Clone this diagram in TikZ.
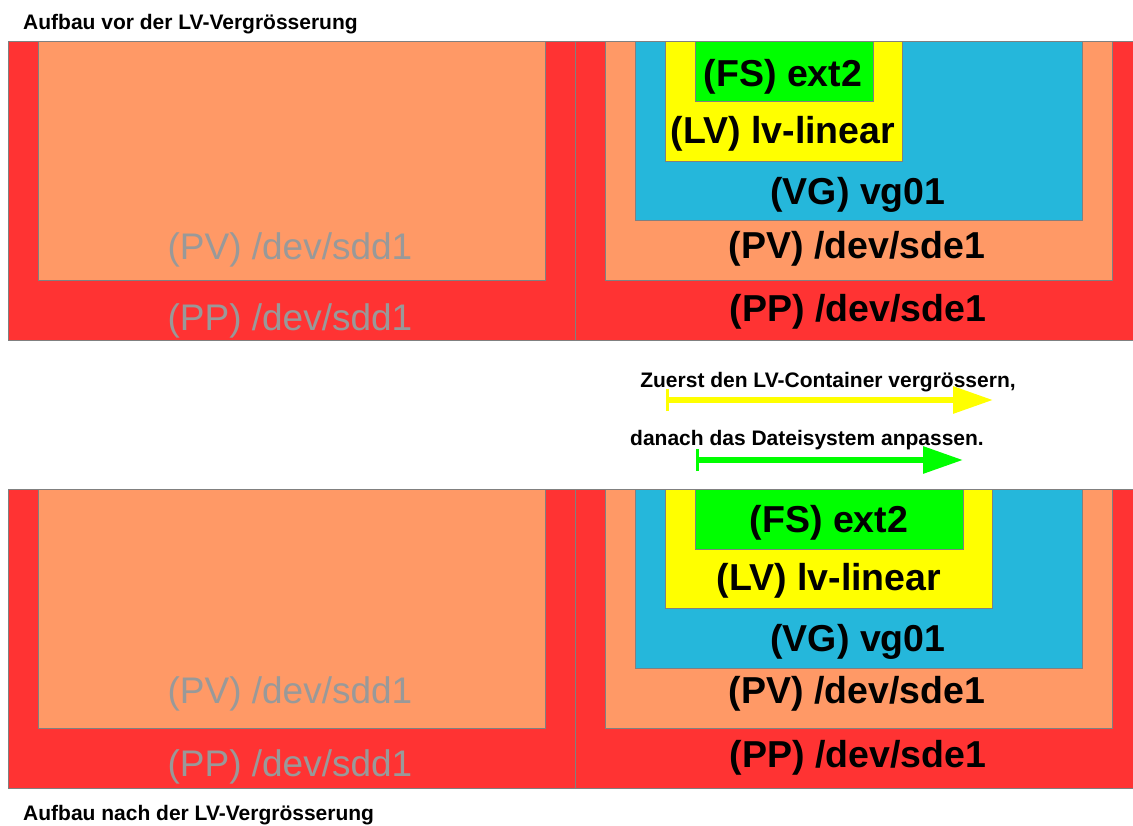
\documentclass[tikz,border=0pt]{standalone}
\usepackage{fontspec}
\setmainfont{Liberation Sans}
\usetikzlibrary{arrows.meta}
\definecolor{ppred}{HTML}{FF3333}
\definecolor{pvorange}{HTML}{FF9966}
\definecolor{vgblue}{HTML}{25B7DB}
\definecolor{lvyellow}{HTML}{FFFF00}
\definecolor{fsgreen}{HTML}{00FF00}
\definecolor{edgegray}{HTML}{808080}
\definecolor{fadedtext}{HTML}{999999}
\tikzset{
  box/.style={draw=edgegray, line width=1pt, inner sep=0pt, outer sep=0pt, anchor=north west},
  biglabel/.style={font=\fontsize{37.5}{40}\selectfont\bfseries, inner sep=0pt, text=black},
  fadedlabel/.style={font=\fontsize{37}{40}\selectfont, inner sep=0pt, text=fadedtext},
  smalllabel/.style={font=\fontsize{21}{23}\selectfont\bfseries, inner sep=0pt, text=black},
  growarrow/.style={line width=6pt, {Bar[width=22pt,line width=3pt]}-{Triangle[length=40pt,width=26pt]}}
}
\begin{document}
\begin{tikzpicture}[x=1pt,y=-1pt]
\useasboundingbox (0,0) rectangle (1133,826);
\clip (0,0) rectangle (1133,826);
% ---------- top panel ----------
\node[smalllabel, anchor=west] (titletop) at (23,24) {Aufbau vor der LV-Vergrösserung};
\node[box, fill=ppred, minimum width=567pt, minimum height=299pt] (ppLt) at (8,42) {};
\node[box, fill=pvorange, minimum width=507pt, minimum height=239pt] (pvLt) at (38,42) {};
\node[box, fill=ppred, minimum width=600pt, minimum height=299pt] (ppRt) at (575,42) {};
\node[box, fill=pvorange, minimum width=507pt, minimum height=239pt] (pvRt) at (605,42) {};
\node[box, fill=vgblue, minimum width=447pt, minimum height=179pt] (vgt) at (635,42) {};
\node[box, fill=lvyellow, minimum width=237pt, minimum height=120pt] (lvt) at (665,42) {};
\node[box, fill=fsgreen, minimum width=178pt, minimum height=60pt] (fst) at (695,42) {};
\node[biglabel] (fstx) at (783,77) {(FS) ext2};
\node[biglabel] (lvtx) at (783,134) {(LV) lv-linear};
\node[biglabel] (vgtx) at (858,195) {(VG) vg01};
\node[biglabel] (pvtx) at (857,249) {(PV) /dev/sde1};
\node[biglabel] (pptx) at (858,312) {(PP) /dev/sde1};
\node[fadedlabel] (pvLtx) at (290,250) {(PV) /dev/sdd1};
\node[fadedlabel] (ppLtx) at (290,321) {(PP) /dev/sdd1};
% ---------- arrows ----------
\node[smalllabel] (step1) at (828,382) {Zuerst den LV-Container vergrössern,};
\coordinate (a1s) at (666,400);
\coordinate (a1e) at (993,400);
\draw[growarrow, lvyellow] (a1s) -- (a1e);
\node[smalllabel] (step2) at (807,440) {danach das Dateisystem anpassen.};
\coordinate (a2s) at (696,460);
\coordinate (a2e) at (963,460);
\draw[growarrow, fsgreen] (a2s) -- (a2e);
% ---------- bottom panel ----------
\node[box, fill=ppred, minimum width=567pt, minimum height=299pt] (ppLb) at (8,489) {};
\node[box, fill=pvorange, minimum width=507pt, minimum height=239pt] (pvLb) at (38,489) {};
\node[box, fill=ppred, minimum width=600pt, minimum height=299pt] (ppRb) at (575,489) {};
\node[box, fill=pvorange, minimum width=507pt, minimum height=239pt] (pvRb) at (605,489) {};
\node[box, fill=vgblue, minimum width=447pt, minimum height=179pt] (vgb) at (635,489) {};
\node[box, fill=lvyellow, minimum width=327pt, minimum height=119pt] (lvb) at (665,489) {};
\node[box, fill=fsgreen, minimum width=268pt, minimum height=60pt] (fsb) at (695,489) {};
\node[biglabel] (fsbx) at (829,523) {(FS) ext2};
\node[biglabel] (lvbx) at (829,581) {(LV) lv-linear};
\node[biglabel] (vgbx) at (858,642) {(VG) vg01};
\node[biglabel] (pvbx) at (857,694) {(PV) /dev/sde1};
\node[biglabel] (ppbx) at (858,758) {(PP) /dev/sde1};
\node[fadedlabel] (pvLbx) at (290,694) {(PV) /dev/sdd1};
\node[fadedlabel] (ppLbx) at (290,767) {(PP) /dev/sdd1};
\node[smalllabel, anchor=west] (titlebot) at (23,815) {Aufbau nach der LV-Vergrösserung};
\end{tikzpicture}
\end{document}
